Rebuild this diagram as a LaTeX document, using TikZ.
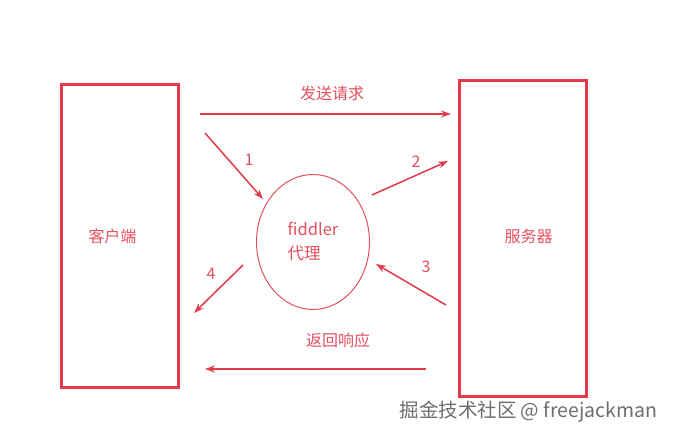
\documentclass[tikz,border=0pt]{standalone}
\usepackage{fontspec}
\setmainfont{Noto Sans CJK SC}
\usetikzlibrary{shapes.geometric,arrows.meta}
\definecolor{boxred}{HTML}{E23A48}
\definecolor{txtred}{HTML}{E4505E}
\definecolor{wmgray}{HTML}{6E6E6E}

\begin{document}
\begin{tikzpicture}[x=1pt, y=-1pt,
		box/.style={rectangle, draw=boxred, line width=3pt, text=txtred, font=\fontsize{16}{18}\selectfont},
		flow/.style={draw=boxred, line width=1.5pt, -{Stealth[length=10pt,width=7pt]}},
		lbl/.style={text=txtred, font=\fontsize{16}{18}\selectfont}]
			\useasboundingbox (0, 0) rectangle (673, 436);
			\fill[white] (0, 0) rectangle (673, 436);

			\node[box, minimum width=117pt, minimum height=302pt, text width=100pt, align=center] (client) at (119.5, 236) {\hspace*{-14pt}客户端};
			\node[box, minimum width=127pt, minimum height=315pt, text width=110pt, align=center] (server) at (522.5, 238.5) {\raisebox{6pt}{\hspace*{12pt}服务器}};
			\node[ellipse, draw=txtred, line width=1pt, minimum width=113pt, minimum height=135pt,
				align=left, text=txtred, font=\fontsize{16.5}{24}\selectfont] (proxy) at (313, 242) {fiddler\\代理};

			\coordinate (reqA) at (200, 114);
			\coordinate (reqB) at (451, 114);
			\coordinate (resA) at (426, 369);
			\coordinate (resB) at (205, 369);
			\coordinate (oneA) at (205, 133);
			\coordinate (oneB) at (263, 199);
			\coordinate (twoA) at (372, 195);
			\coordinate (twoB) at (448, 161);
			\coordinate (thrA) at (446, 305);
			\coordinate (thrB) at (376, 264);
			\coordinate (fouA) at (243, 265);
			\coordinate (fouB) at (194, 313);

			\draw[flow] (reqA) -- (reqB);
			\draw[flow] (resA) -- (resB);
			\draw[flow] (oneA) -- (oneB);
			\draw[flow] (twoA) -- (twoB);
			\draw[flow] (thrA) -- (thrB);
			\draw[flow] (fouA) -- (fouB);

			\node[lbl] (reqlbl) at (332, 93) {发送请求};
			\node[lbl] (reslbl) at (338, 340) {返回响应};
			\node[lbl] (n1) at (249, 160) {1};
			\node[lbl] (n2) at (416, 162) {2};
			\node[lbl] (n3) at (426, 267) {3};
			\node[lbl] (n4) at (211, 274) {4};

			\node[text=wmgray, font=\fontsize{19.5}{21}\selectfont, anchor=west] (mark) at (396, 412) {掘金技术社区 @ freejackman};
		\end{tikzpicture}
\end{document}
